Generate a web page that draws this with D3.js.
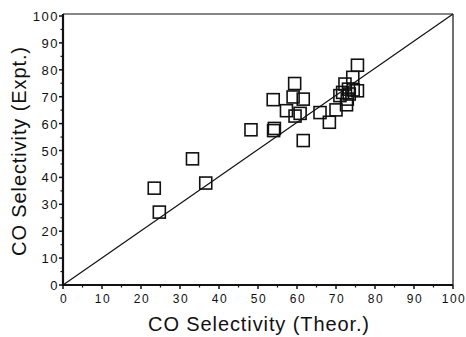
<!DOCTYPE html>
<html>
<head>
<meta charset="utf-8">
<script src="https://cdn.jsdelivr.net/npm/d3@7"></script>
<style>
  body { margin: 0; background: #fff; }
  svg { display: block; }
  text { font-family: "Liberation Sans", Arial, sans-serif; fill: #111; }
</style>
</head>
<body>
<div id="container"></div>
<script>
(function() {

let theor = [23.4, 24.7, 33.2, 36.6, 48.2, 54.0, 54.2, 53.9, 57.3, 59.0,
  59.4, 61.6, 59.5, 60.8, 61.6, 65.9, 68.3, 70.0, 72.7, 71.0,
  71.7, 72.9, 73.4, 73.2, 74.4, 75.5, 72.3, 74.3, 75.5];
let expt = [36.0, 27.1, 46.9, 37.9, 57.7, 57.4, 58.2, 68.9, 64.8, 69.9,
  74.9, 69.1, 62.8, 63.8, 53.7, 64.1, 60.5, 65.1, 67.0, 70.4,
  71.6, 69.1, 71.0, 72.8, 72.5, 72.2, 74.7, 77.2, 81.7];
let majorTicks = [0, 10, 20, 30, 40, 50, 60, 70, 80, 90, 100];
let minorTicks = [5, 15, 25, 35, 45, 55, 65, 75, 85, 95];
let xTitle = "CO Selectivity (Theor.)";
let yTitle = "CO Selectivity (Expt.)";

let width = 466, height = 337;
let svg = d3.select("#container").append("svg")
  .attr("width", width)
  .attr("height", height);

let x = d3.scaleLinear().domain([0, 100]).range([63, 453]);
let y = d3.scaleLinear().domain([0, 100]).range([285, 16]);

// frame: top and right thin
svg.append("line")
  .attr("x1", x(0)).attr("x2", x(100)).attr("y1", 14).attr("y2", 14)
  .attr("stroke", "#111").attr("stroke-width", 1.2);
svg.append("line")
  .attr("x1", x(100)).attr("x2", x(100)).attr("y1", 14).attr("y2", y(0))
  .attr("stroke", "#111").attr("stroke-width", 1.2);

// bottom axis
let xAxis = svg.append("g")
  .attr("transform", "translate(0," + y(0) + ")");
xAxis.append("line")
  .attr("x1", x(0) - 1).attr("x2", x(100)).attr("stroke", "#111").attr("stroke-width", 2.2);
xAxis.selectAll(".maj").data(majorTicks).enter().append("line")
  .attr("x1", (d) => x(d)).attr("x2", (d) => x(d))
  .attr("y1", 0).attr("y2", 4)
  .attr("stroke", "#111").attr("stroke-width", 1.5);
xAxis.selectAll(".min").data(minorTicks).enter().append("line")
  .attr("x1", (d) => x(d)).attr("x2", (d) => x(d))
  .attr("y1", 0).attr("y2", 2.5)
  .attr("stroke", "#111").attr("stroke-width", 1.2);
xAxis.selectAll("text").data(majorTicks).enter().append("text")
  .attr("x", (d) => x(d) + 1)
  .attr("y", 18)
  .attr("text-anchor", "middle")
  .style("font-size", "12px")
  .style("letter-spacing", "1.5px")
  .text((d) => d);

// left axis
let yAxis = svg.append("g")
  .attr("transform", "translate(" + x(0) + ",0)");
yAxis.append("line")
  .attr("y1", 14).attr("y2", y(0) + 1).attr("stroke", "#111").attr("stroke-width", 2.2);
yAxis.selectAll(".maj").data(majorTicks).enter().append("line")
  .attr("y1", (d) => y(d)).attr("y2", (d) => y(d))
  .attr("x1", 0).attr("x2", -4)
  .attr("stroke", "#111").attr("stroke-width", 1.5);
yAxis.selectAll(".min").data(minorTicks).enter().append("line")
  .attr("y1", (d) => y(d)).attr("y2", (d) => y(d))
  .attr("x1", 0).attr("x2", -2.5)
  .attr("stroke", "#111").attr("stroke-width", 1.2);
yAxis.selectAll("text").data(majorTicks).enter().append("text")
  .attr("x", -4)
  .attr("y", (d) => y(d) + 5)
  .attr("text-anchor", "end")
  .style("font-size", "13px")
  .style("letter-spacing", "1.5px")
  .text((d) => d);

// parity line
svg.append("line")
  .attr("x1", x(0)).attr("y1", y(0))
  .attr("x2", x(100)).attr("y2", y(100) - 2)
  .attr("stroke", "#111").attr("stroke-width", 1.2);

// points
let pts = theor.map((t, i) => ({ t: t, e: expt[i] }));
let s = 12;
svg.append("g")
  .selectAll("rect")
  .data(pts)
  .enter()
  .append("rect")
    .attr("x", (d) => x(d.t) - s / 2)
    .attr("y", (d) => y(d.e) - s / 2)
    .attr("width", s)
    .attr("height", s)
    .attr("fill", "none")
    .attr("stroke", "#111")
    .attr("stroke-width", 1.6);

// titles
svg.append("text")
  .attr("x", 259)
  .attr("y", 331)
  .attr("text-anchor", "middle")
  .style("font-size", "20px")
  .style("letter-spacing", "0.9px")
  .text(xTitle);

svg.append("text")
  .attr("transform", "translate(26,151) rotate(-90)")
  .attr("text-anchor", "middle")
  .style("font-size", "20px")
  .style("letter-spacing", "0.9px")
  .text(yTitle);

})();
</script>
</body>
</html>
